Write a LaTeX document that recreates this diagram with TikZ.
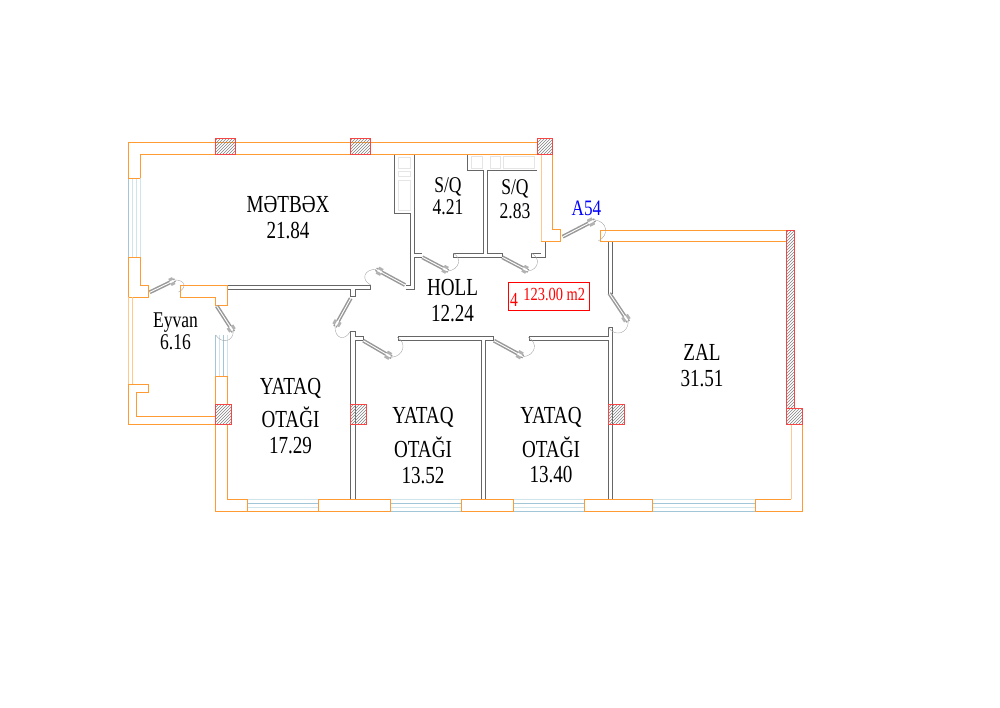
\documentclass[tikz,border=0pt]{standalone}
\usepackage{fontspec}
\setmainfont[FakeStretch=0.78]{Liberation Serif}
\usetikzlibrary{calc,patterns}
\definecolor{wallorange}{RGB}{255,155,50}
\definecolor{paleorange}{RGB}{255,200,140}
\definecolor{columnred}{RGB}{245,70,70}
\definecolor{glassblue}{RGB}{160,198,215}
\definecolor{paleglass}{RGB}{208,228,236}
\newcommand{\doorswing}[3]{%
  \draw[doorleaf] (#1) -- (#2);
  \draw[doorknob] ($(#1)!.80!(#2)$) -- ($(#1)!.95!(#2)$);
  \draw[doorarc] (#2) .. controls ($(#2)+.35*(#3)-.35*(#1)$) and ($(#3)+.35*(#2)-.35*(#1)$) .. (#3);
}
\begin{document}
\begin{tikzpicture}[x=1pt, y=-1pt,
    wall/.style = {draw=wallorange, line width=1pt, line join=miter},
    palewall/.style = {draw=paleorange, line width=1pt},
    column/.style = {draw=columnred, line width=1pt, pattern=north east lines, pattern color=gray},
    inner/.style = {draw=black!60, line width=1pt},
    fixture/.style = {draw=black!10, line width=.5pt},
    doorleaf/.style = {draw=black!40, line width=1.5pt, double=white, double distance=.9pt},
    doorknob/.style = {draw=black!30, line width=3pt, double=white, double distance=1.8pt},
    doorarc/.style = {draw=black!35, line width=.4pt},
    glass/.style = {draw=glassblue, line width=.9pt},
    paleglassline/.style = {draw=paleglass, line width=.9pt},
    label/.style = {font=\fontsize{24.5}{24}\selectfont, align=center, inner sep=0pt, text=black},
    small/.style = {font=\fontsize{22.5}{23}\selectfont, align=center, inner sep=0pt, text=black},
    redtext/.style = {text=red, inner sep=0pt}]
\useasboundingbox (0,0) rectangle (1000,707);
% windows
\foreach \x/\c in {128.3/glassblue,132.3/paleglass,136.3/paleglass,140.3/paleglass}
  \draw[draw=\c, line width=.9pt] (\x,178.3) -- (\x,257);
\foreach \x/\c in {215.7/glassblue,219.7/paleglass,223.5/glassblue,227.3/paleglass}
  \draw[draw=\c, line width=.9pt] (\x,335) -- (\x,376.7);
\foreach \a/\b in {247.7/318.7,390.7/461.7,513.3/584.3,652.3/755.3} {
  \draw[paleglassline] (\a,499.3) -- (\b,499.3);
  \draw[glass] (\a,503.3) -- (\b,503.3);
  \draw[paleglassline] (\a,507.3) -- (\b,507.3);
  \draw[glass] (\a,511.3) -- (\b,511.3);
}
% fixtures
\draw[fixture] (398.7,157) rectangle (410,168);
\draw[fixture] (398.7,171) rectangle (410,176);
\draw[fixture] (398.7,180) rectangle (410,210);
\draw[fixture] (471,156) rectangle (482,168);
\draw[fixture] (490,156) rectangle (500,168);
\draw[fixture] (503,156) rectangle (534,168);
% inner walls
\draw[inner] (394.3,154.3) -- (394.3,213.3) -- (410.7,213.3) -- (410.7,285) -- (405.7,285);
\draw[inner] (405.7,289.7) -- (414.7,289.7) -- (414.7,257.3) -- (422.3,257.3);
\draw[inner] (414.7,154.3) -- (414.7,253.3) -- (422.3,253.3);
\draw[inner] (227.3,285) -- (370.7,285) -- (370.7,289.7) -- (355,289.7) -- (355,296.7) -- (350,296.7) -- (350,289.7) -- (227.3,289.7);
\draw[inner] (467.3,154.3) -- (467.3,170) -- (483.3,170) -- (483.3,253.3) -- (453.3,253.3) -- (453.3,257.3) -- (502.3,257.3) -- (502.3,253.3) -- (487.3,253.3) -- (487.3,170) -- (536.7,170);
\draw[inner] (531.7,253.3) -- (541,253.3);
\draw[inner] (531.7,253.3) -- (531.7,257.3) -- (545.7,257.3) -- (545.7,241.7);
\draw[inner] (350.4,499.3) -- (350.4,331.7) -- (355,331.7) -- (355,336.7) -- (363.3,336.7) -- (363.3,340.7) -- (355,340.7) -- (355,499.3);
\draw[inner] (398.3,340.7) -- (398.3,336.7) -- (493.3,336.7) -- (493.3,340.7) -- (485.7,340.7) -- (485.7,499.3);
\draw[inner] (398.3,340.7) -- (481.3,340.7) -- (481.3,499.3);
\draw[inner] (529.3,340.7) -- (529.3,336.7) -- (608.3,336.7) -- (608.3,327.3) -- (612.7,327.3) -- (612.7,499.3);
\draw[inner] (529.3,340.7) -- (608.3,340.7) -- (608.3,499.3);
\draw[inner] (608.3,241.7) -- (608.3,293.3) -- (612.7,293.3) -- (612.7,241.7);
% orange walls
\draw[wall] (128.3,178.3) -- (128.3,142.3) -- (537,142.3);
\draw[wall] (140.3,178.3) -- (140.3,154.3) -- (537,154.3);
\draw[wall] (128.3,178.3) -- (140.3,178.3);
\draw[wall] (128.3,257) -- (140.3,257) -- (140.3,285) -- (148.3,285) -- (148.3,297.3) -- (128.3,297.3) -- cycle;
\draw[wall] (180,285) -- (227.3,285) -- (227.3,305) -- (215.7,305) -- (215.7,297.3) -- (180,297.3) -- cycle;
\draw[palewall] (132.7,297.3) -- (132.7,384.3);
\draw[palewall] (128.3,297.3) -- (128.3,384.3);
\draw[wall] (128.3,384.3) -- (148.3,384.3) -- (148.3,392.3) -- (136.3,392.3) -- (136.3,416) -- (215.7,416) -- (215.7,424.3) -- (128.3,424.3) -- cycle;
\draw[wall] (215.7,404.3) -- (215.7,376.7) -- (227.3,376.7) -- (227.3,404.3);
\draw[wall] (215.7,424.3) -- (215.7,511.3) -- (318.7,511.3);
\draw[wall] (227.3,424.3) -- (227.3,499.3) -- (247.7,499.3) -- (247.7,511.3);
\draw[wall] (318.7,499.3) rectangle (390.7,511.3);
\draw[wall] (461.7,499.3) rectangle (513.3,511.3);
\draw[wall] (584.3,499.3) rectangle (652.3,511.3);
\draw[wall] (755.3,511.3) -- (755.3,499.3) -- (791,499.3);
\draw[wall] (755.3,511.3) -- (802.7,511.3) -- (802.7,424.3);
\draw[palewall] (791,499.3) -- (791,424.3);
\draw[palewall] (541,154.3) -- (541,241.7);
\draw[wall] (541,241.7) -- (560.7,241.7) -- (560.7,229.3) -- (552.7,229.3) -- (552.7,154.3);
\draw[wall] (786.7,230) -- (600,230) -- (600,241.7) -- (786.7,241.7);
% columns
\foreach \a/\b/\c/\d in {215.7/138.3/235.7/154.3,350.3/138.3/370.7/154.3,537/138.3/552.7/154.3,
    215.7/404.3/231.7/424.3,350.3/404.3/366.7/424.3,608.7/404.3/624.3/424.3,
    786.7/230/794.3/408.3,786.7/408.3/802.7/424.3}
  \draw[column] (\a,\b) rectangle (\c,\d);
% doors
\doorswing{149.7,292.3}{175,280}{178.5,292}
\doorswing{216.7,306}{233.3,331.7}{215.7,335}
\doorswing{350.7,298.3}{335,326.7}{350,331.7}
\doorswing{405,285}{376,269.3}{370.7,285}
\doorswing{422.3,257.3}{448.3,271}{453.3,253.3}
\doorswing{502.3,257.3}{528.3,271}{531.7,253.3}
\doorswing{562.7,236.7}{595,220}{598.3,241}
\doorswing{363.3,340.7}{391.7,357.3}{397.3,337.3}
\doorswing{494,340.7}{523.3,356.7}{528.3,337.3}
\doorswing{609.3,293.3}{628.3,321.7}{608.3,327.3}
% labels
\node[label] (metbex) at (288,205) {MƏTBƏX};
\node[label] (metbexarea) at (288,231) {21.84};
\node[small] (eyvan) at (175.5,323) {Eyvan};
\node[small] (eyvanarea) at (175.5,342) {6.16};
\node[small] (sq1) at (448,187) {S/Q};
\node[small] (sq1area) at (448,207) {4.21};
\node[small] (sq2) at (515,189) {S/Q};
\node[small] (sq2area) at (515,211) {2.83};
\node[label] (holl) at (452.5,288) {HOLL};
\node[label] (hollarea) at (452.5,314) {12.24};
\node[label] (room1) at (290.5,388) {YATAQ};
\node[label] (room1b) at (290.5,417) {OTAĞI};
\node[label] (room1area) at (290.5,446) {17.29};
\node[label] (room2) at (423,417) {YATAQ};
\node[label] (room2b) at (423,447) {OTAĞI};
\node[label] (room2area) at (423,476) {13.52};
\node[label] (room3) at (551,417) {YATAQ};
\node[label] (room3b) at (551,447) {OTAĞI};
\node[label] (room3area) at (551,475) {13.40};
\node[label] (zal) at (702,352) {ZAL};
\node[label] (zalarea) at (702,379) {31.51};
\node[font=\fontsize{22}{22}\selectfont, text=blue, inner sep=0pt] (flat) at (586.5,208) {A54};
\draw[draw=red, line width=.9pt] (508.3,282.3) rectangle (589.3,310.7);
\node[redtext, font=\fontsize{20}{20}\selectfont] (floor) at (514,299.5) {4};
\node[redtext, font=\fontsize{18.5}{18}\selectfont] (total) at (554.3,294) {123.00 m2};
\end{tikzpicture}
\end{document}
